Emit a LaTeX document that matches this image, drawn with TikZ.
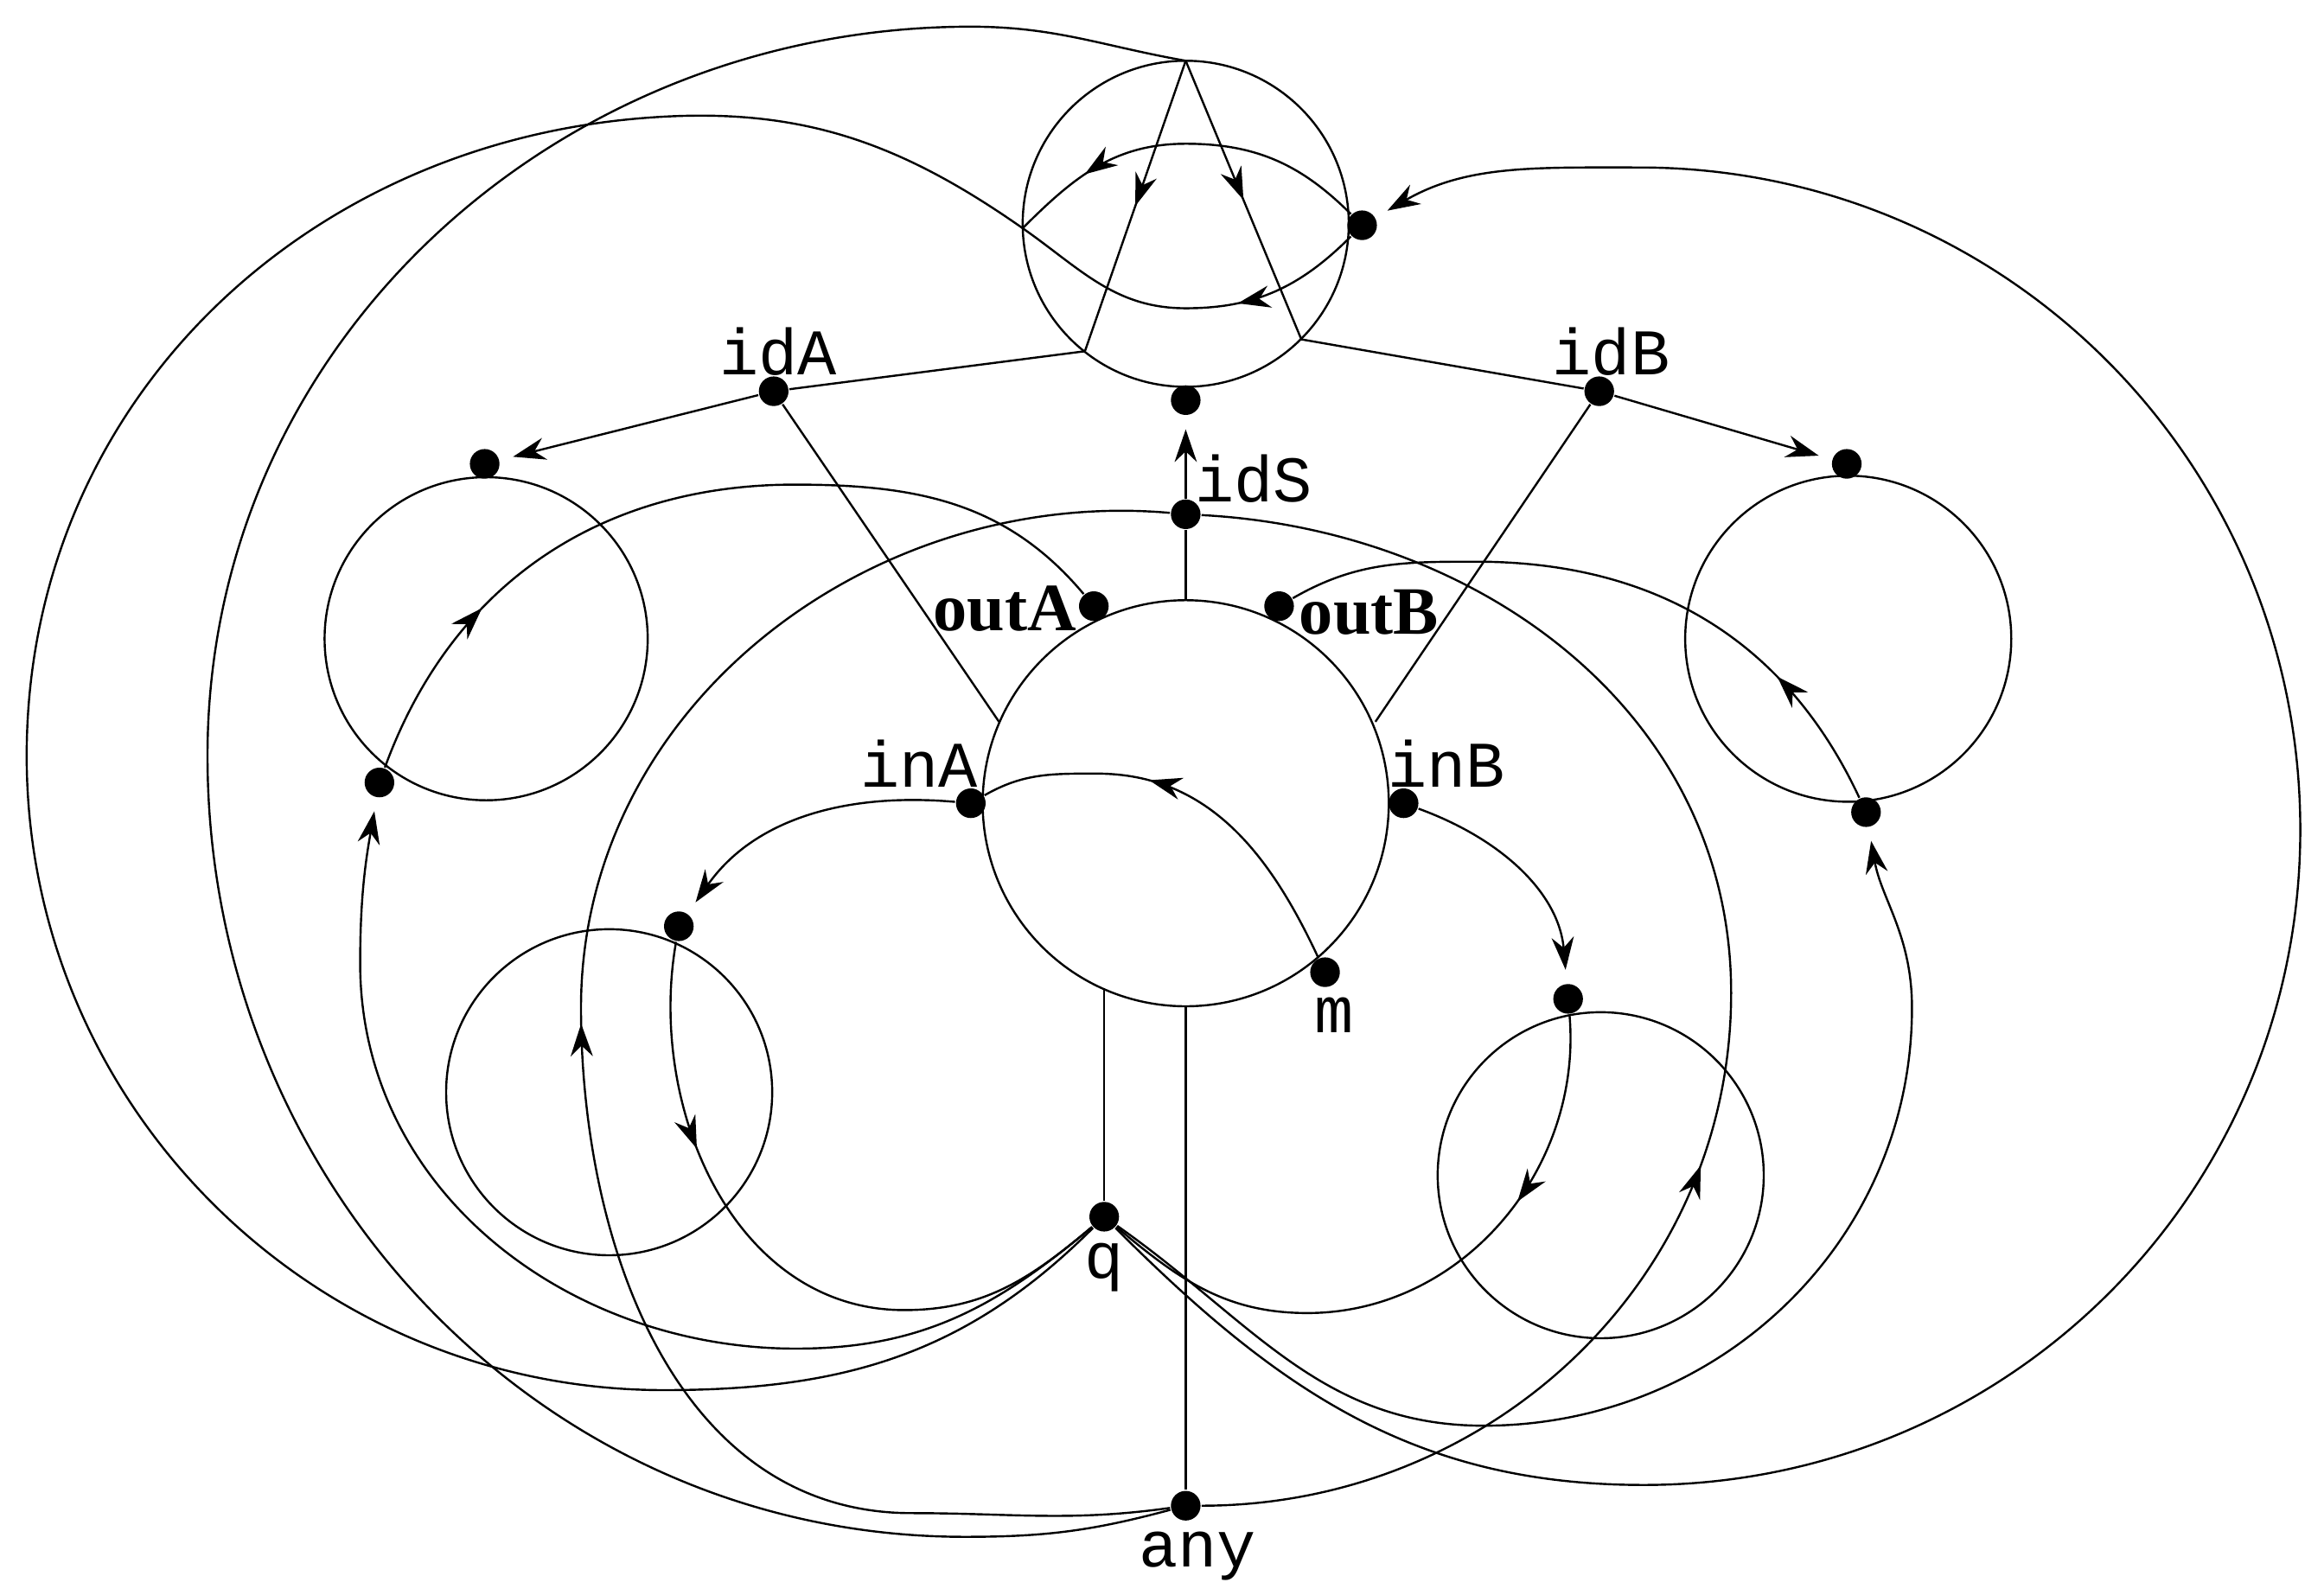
\documentclass[tikz,border=0pt]{standalone}
\usepackage{fontspec}
\setmainfont{Liberation Serif}
\setmonofont{Liberation Mono}
\usetikzlibrary{arrows.meta,decorations.markings}
\tikzset{
  dot/.style={circle,fill,inner sep=0pt,minimum size=2mm},
  tlbl/.style={font=\ttfamily\fontsize{12.5}{13}\selectfont,inner sep=0pt},
  blbl/.style={font=\bfseries\fontsize{13}{14}\selectfont,inner sep=0pt},
  tip/.style={-{Stealth[length=2.2mm,width=1.5mm]},shorten >=0.9mm},
  mid/.style={postaction={decorate},decoration={markings,
    mark=at position #1 with {\arrow{Stealth[length=2.2mm,width=1.5mm]}}}},
  rmid/.style={postaction={decorate},decoration={markings,
    mark=at position #1 with {\arrowreversed{Stealth[length=2.2mm,width=1.5mm]}}}},
}
\begin{document}
\begin{tikzpicture}[x=0.1mm,y=-0.1mm,line width=0.4pt]
  \useasboundingbox (0,0) rectangle (1568,1076);
  % states
  \draw (800,151) circle(110);
  \draw (800,542) circle(137);
  \draw (328,431) circle(109);
  \draw (1247,431) circle(110);
  \draw (411,737) circle(110);
  \draw (1080,793) circle(110);
  % points on the borders
  \coordinate (apex) at (800,41);
  \coordinate (tA) at (732,237);
  \coordinate (tB) at (878,229);
  \coordinate (tL) at (690,154);
  \coordinate (cA) at (674,487);
  \coordinate (cB) at (928,487);
  \coordinate (cS) at (800,405);
  \coordinate (cQ) at (745,667);
  \coordinate (cY) at (800,679);
  % dots
  \node[dot] (idA) at (522,264) {};
  \node[dot] (idB) at (1079,264) {};
  \node[dot] (idS) at (800,347) {};
  \node[dot] (top) at (800,270) {};
  \node[dot] (tR) at (919,152) {};
  \node[dot] (aT) at (327,313) {};
  \node[dot] (bT) at (1246,313) {};
  \node[dot] (aL) at (256,528) {};
  \node[dot] (bR) at (1259,548) {};
  \node[dot] (outA) at (738,409) {};
  \node[dot] (outB) at (863,409) {};
  \node[dot] (inA) at (655,542) {};
  \node[dot] (inB) at (947,542) {};
  \node[dot] (m) at (894,656) {};
  \node[dot] (lA) at (458,625) {};
  \node[dot] (lB) at (1058,674) {};
  \node[dot] (q) at (745,821) {};
  \node[dot] (any) at (800,1016) {};
  % labels
  \node[tlbl] at (525,237) {idA};
  \node[tlbl] at (1087,237) {idB};
  \node[tlbl] at (846,323) {idS};
  \node[tlbl] at (620,515) {inA};
  \node[tlbl] at (976,515) {inB};
  \node[tlbl] at (900,685) {m};
  \node[tlbl] at (745,855) {q};
  \node[tlbl] at (808,1050) {any};
  \node[blbl,anchor=east] at (727,411) {outA};
  \node[blbl,anchor=west] at (876,413) {outB};
  % straight lines
  \draw[mid=0.5] (apex) -- (tA);
  \draw[mid=0.5] (apex) -- (tB);
  \draw (tA) -- (idA) -- (cA);
  \draw (tB) -- (idB) -- (cB);
  \draw[tip] (idA) -- (aT);
  \draw[tip] (idB) -- (bT);
  \draw (cS) -- (idS);
  \draw[tip] (idS) -- (top);
  \draw (cQ) -- (q);
  \draw (cY) -- (any);
  % inner transitions
  \draw[mid=0.6] (m) to[out=115,in=0] (740,522) to[out=180,in=30] (inA);
  \draw[tip] (inA) to[out=175,in=55] (lA);
  \draw[tip] (inB) to[out=-20,in=95] (lB);
  \draw[mid=0.3] (lA) to[out=-100,in=180] (610,884) to[out=0,in=-140] (q);
  \draw[mid=0.3] (lB) to[out=-85,in=0] (882,886) to[out=180,in=-40] (q);
  \draw[tip] (q) to[out=-140,in=0] (537,910) to[out=180,in=-90] (243,650)
    to[out=90,in=-100] (aL);
  \draw[mid=0.22] (aL) to[out=70,in=180] (536,327) to[out=0,in=130] (outA);
  \draw[tip] (q) to[out=-35,in=180] (1001,962) to[out=0,in=-90] (1290,680)
    to[out=90,in=-80] (bR);
  \draw[mid=0.22] (bR) to[out=115,in=0] (996,379) to[out=180,in=30] (outB);
  % outer transitions
  \draw[mid=0.78] (tR) to[out=135,in=0] (800,97) to[out=180,in=45] (tL);
  \draw[mid=9mm] (tR) to[out=-135,in=0] (800,208) to[out=180,in=-35] (tL)
    to[out=145,in=5] (430,80) to[out=185,in=90] (18,510)
    to[out=-90,in=180] (448,938) to[out=0,in=-135] (q);
  \draw[tip] (q) to[out=-45,in=180] (1109,1002) to[out=0,in=-90] (1552,560)
    to[out=90,in=0] (1106,113) to[out=180,in=30] (tR);
  \draw (apex) to[out=170,in=0] (655,18) to[out=180,in=90] (140,510)
    to[out=-90,in=180] (651,1037) to[out=0,in=195] (any);
  \draw[rmid=0.49] (idS) to[out=175,in=90] (392,680) to[out=-90,in=180] (615,1021)
    to[out=0,in=188] (any);
  \draw[rmid=0.6] (idS) to[out=-3,in=90] (1168,670) to[out=-90,in=0] (any);
\end{tikzpicture}
\end{document}
